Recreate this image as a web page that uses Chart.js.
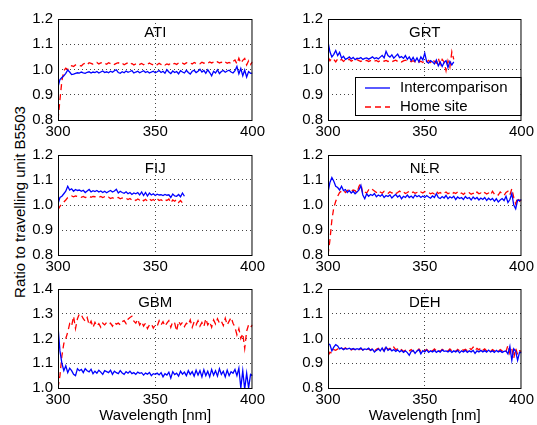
<!DOCTYPE html>
<html lang="en">
<head>
<meta charset="UTF-8" />
<title>ratio to travelling unit</title>
<script src="https://cdn.jsdelivr.net/npm/chart.js"></script>
<style>
  body { margin: 0; background: #fff; }
  .wrap { position: relative; width: 537px; height: 425px; overflow: hidden; font-family: 'Liberation Sans', Arial, sans-serif; }
  canvas { position: absolute; }
  .ylab {
    position: absolute; left: 19px; top: 202px;
    transform: translate(-50%, -50%) rotate(-90deg);
    white-space: nowrap; font-size: 15px; color: #000;
  }
</style>
</head>
<body>
<div class="wrap" id="wrap">
  <div class="ylab">Ratio to travelling unit B5503</div>
</div>
<script>
// wavelength grid (nm)
const wlFull = [300,301,302,303,304,305,306,307,308,309,310,311,312,313,314,315,316,317,318,319,
  320,321,322,323,324,325,326,327,328,329,330,331,332,333,334,335,336,337,338,339,
  340,341,342,343,344,345,346,347,348,349,350,351,352,353,354,355,356,357,358,359,
  360,361,362,363,364,365,366,367,368,369,370,371,372,373,374,375,376,377,378,379,
  380,381,382,383,384,385,386,387,388,389,390,391,392,393,394,395,396,397,398,399,400];
const wlShort = wlFull.slice(0, 66); // 300..365

const atiInter = [0.930,0.960,0.968,0.975,0.985,0.998,0.990,0.980,0.982,0.985,
  0.987,0.986,0.990,0.987,0.985,0.989,0.991,0.986,0.990,0.988,
  0.992,0.986,0.990,0.994,0.988,0.991,0.987,0.993,0.989,0.995,
  0.999,0.988,0.985,0.991,0.987,0.994,0.989,0.992,0.996,0.986,
  0.990,0.993,0.987,0.991,0.995,0.988,0.992,0.986,0.990,0.993,
  0.987,0.991,0.996,0.988,0.993,0.985,0.999,0.990,0.984,0.994,
  0.988,0.992,0.983,0.995,0.990,0.986,0.997,0.988,0.982,0.993,
  0.997,0.988,0.993,1.001,0.990,0.996,0.985,0.999,0.988,0.975,
  0.993,0.986,0.999,0.984,0.992,0.996,0.989,0.994,0.997,0.990,
  0.986,0.995,1.012,0.983,1.004,0.975,0.998,0.970,0.992,0.985,0.986];
const atiHome = [0.800,0.880,0.955,0.995,1.005,1.000,1.003,1.015,1.012,1.018,
  1.020,1.016,1.014,1.022,1.025,1.019,1.027,1.024,1.021,1.026,
  1.028,1.022,1.026,1.029,1.024,1.021,1.027,1.023,1.026,1.020,
  1.024,1.027,1.021,1.025,1.019,1.023,1.027,1.020,1.024,1.018,
  1.022,1.026,1.020,1.024,1.019,1.023,1.020,1.026,1.021,1.018,
  1.023,1.019,1.025,1.020,1.024,1.018,1.022,1.019,1.026,1.021,
  1.024,1.020,1.026,1.022,1.025,1.021,1.027,1.023,1.026,1.022,
  1.028,1.024,1.027,1.023,1.029,1.025,1.028,1.024,1.030,1.026,
  1.029,1.025,1.031,1.026,1.029,1.024,1.030,1.025,1.028,1.023,
  1.032,1.038,1.022,1.045,1.025,1.036,1.044,1.018,1.035,1.020,1.030];

const grtInter = [1.110,1.070,1.050,1.060,1.075,1.055,1.068,1.045,1.052,1.040,
  1.044,1.050,1.042,1.048,1.039,1.045,1.043,1.047,1.040,1.044,
  1.046,1.041,1.045,1.050,1.043,1.047,1.042,1.049,1.056,1.046,
  1.072,1.055,1.049,1.058,1.045,1.053,1.061,1.047,1.051,1.044,
  1.055,1.040,1.050,1.035,1.048,1.032,1.046,1.030,1.050,1.038,
  1.065,1.030,1.025,1.035,1.030,1.022,1.038,1.015,1.030,1.012,
  1.028,1.035,1.008,1.032,1.018,1.030];
const grtHome = [1.050,1.035,1.045,1.040,1.030,1.042,1.035,1.040,1.032,1.038,
  1.035,1.041,1.033,1.037,1.034,1.039,1.035,1.032,1.037,1.034,
  1.036,1.032,1.035,1.038,1.033,1.036,1.031,1.035,1.038,1.033,
  1.036,1.032,1.035,1.030,1.034,1.037,1.032,1.035,1.030,1.034,
  1.037,1.033,1.036,1.031,1.035,1.030,1.034,1.029,1.033,1.028,
  1.035,1.030,1.036,1.028,1.040,1.032,1.025,1.045,1.020,1.040,
  1.030,0.995,1.035,1.010,1.070,1.040];

const fijInter = [1.005,1.030,1.035,1.045,1.055,1.075,1.060,1.065,1.055,1.062,
  1.058,1.060,1.055,1.059,1.050,1.056,1.062,1.052,1.057,1.054,
  1.058,1.052,1.056,1.050,1.055,1.049,1.054,1.058,1.052,1.056,
  1.063,1.048,1.055,1.050,1.047,1.053,1.045,1.050,1.042,1.048,
  1.045,1.050,1.040,1.052,1.038,1.050,1.036,1.048,1.040,1.045,
  1.038,1.043,1.040,1.041,1.038,1.042,1.039,1.041,1.030,1.044,
  1.036,1.035,1.042,1.033,1.048,1.035];
const fijHome = [0.980,0.995,1.005,1.012,1.020,1.030,1.032,1.036,1.033,1.036,
  1.034,1.035,1.031,1.034,1.030,1.033,1.036,1.031,1.034,1.033,
  1.035,1.031,1.034,1.030,1.033,1.028,1.031,1.026,1.029,1.025,
  1.028,1.030,1.025,1.028,1.024,1.027,1.022,1.026,1.020,1.024,
  1.018,1.024,1.020,1.026,1.017,1.023,1.015,1.024,1.018,1.022,
  1.016,1.025,1.018,1.021,1.015,1.022,1.018,1.024,1.008,1.020,
  1.015,1.022,1.010,1.018,1.008,1.012];

const nlrInter = [1.050,1.090,1.110,1.095,1.075,1.070,1.060,1.075,1.058,1.062,
  1.050,1.058,1.048,1.055,1.045,1.052,1.060,1.078,1.040,1.025,
  1.045,1.035,1.042,1.038,1.046,1.033,1.040,1.035,1.042,1.030,
  1.038,1.034,1.040,1.028,1.036,1.042,1.032,1.038,1.025,1.035,
  1.030,1.040,1.030,1.036,1.028,1.040,1.033,1.038,1.030,1.036,
  1.030,1.038,1.032,1.027,1.036,1.030,1.045,1.030,1.026,1.034,
  1.028,1.038,1.025,1.033,1.028,1.035,1.022,1.032,1.026,1.030,
  1.022,1.034,1.026,1.030,1.020,1.032,1.024,1.030,1.020,1.028,
  1.022,1.030,1.018,1.027,1.020,1.026,1.015,1.025,1.012,1.020,
  1.026,1.018,1.035,1.010,1.022,1.045,1.000,0.985,1.020,1.018,1.022];
const nlrHome = [0.800,0.860,0.940,0.990,1.015,1.035,1.050,1.055,1.060,1.050,
  1.058,1.062,1.055,1.060,1.058,1.048,1.075,1.085,1.045,1.052,
  1.048,1.060,1.055,1.062,1.056,1.050,1.058,1.052,1.047,1.055,
  1.050,1.046,1.053,1.048,1.052,1.045,1.050,1.056,1.048,1.052,
  1.046,1.050,1.055,1.048,1.052,1.047,1.050,1.045,1.052,1.048,
  1.054,1.049,1.050,1.045,1.048,1.044,1.055,1.046,1.050,1.043,
  1.048,1.052,1.045,1.049,1.043,1.050,1.046,1.052,1.044,1.048,
  1.042,1.050,1.046,1.049,1.043,1.047,1.041,1.052,1.045,1.048,
  1.042,1.050,1.044,1.048,1.040,1.055,1.043,1.047,1.040,1.052,
  1.045,1.038,1.050,1.055,1.040,1.065,1.030,1.005,1.030,1.015,1.020];

const gbmInter = [1.250,1.150,1.100,1.070,1.090,1.062,1.080,1.070,1.055,1.050,
  1.078,1.070,1.075,1.062,1.078,1.070,1.065,1.076,1.058,1.068,
  1.060,1.072,1.064,1.055,1.070,1.066,1.062,1.072,1.055,1.068,
  1.062,1.058,1.070,1.061,1.055,1.066,1.060,1.068,1.058,1.062,
  1.055,1.064,1.059,1.062,1.052,1.060,1.056,1.063,1.050,1.058,
  1.055,1.060,1.053,1.062,1.045,1.058,1.052,1.064,1.040,1.066,
  1.054,1.060,1.048,1.068,1.056,1.064,1.050,1.070,1.055,1.066,
  1.048,1.072,1.052,1.070,1.045,1.074,1.050,1.068,1.045,1.075,
  1.052,1.070,1.048,1.078,1.055,1.068,1.045,1.072,1.050,1.066,
  1.060,1.075,1.050,1.080,1.000,1.070,0.995,1.060,1.000,1.055,1.050];
const gbmHome = [1.000,1.050,1.130,1.180,1.200,1.225,1.260,1.250,1.290,1.240,
  1.280,1.300,1.295,1.280,1.270,1.285,1.255,1.270,1.245,1.265,
  1.250,1.260,1.245,1.262,1.255,1.265,1.258,1.262,1.250,1.265,
  1.258,1.262,1.255,1.268,1.272,1.260,1.278,1.285,1.290,1.270,
  1.262,1.278,1.255,1.268,1.250,1.262,1.240,1.255,1.260,1.242,
  1.255,1.250,1.272,1.255,1.268,1.250,1.262,1.272,1.245,1.268,
  1.262,1.230,1.270,1.255,1.265,1.248,1.262,1.255,1.275,1.245,
  1.268,1.255,1.272,1.250,1.265,1.248,1.280,1.255,1.268,1.245,
  1.275,1.258,1.280,1.262,1.270,1.252,1.282,1.255,1.270,1.285,
  1.262,1.245,1.215,1.240,1.200,1.220,1.160,1.230,1.255,1.245,1.255];

const dehInter = [0.980,0.975,0.950,0.965,0.975,0.970,0.958,0.962,0.955,0.960,
  0.957,0.961,0.956,0.960,0.955,0.959,0.956,0.962,0.953,0.958,
  0.955,0.961,0.952,0.957,0.945,0.952,0.958,0.950,0.962,0.948,
  0.965,0.952,0.958,0.950,0.955,0.948,0.954,0.946,0.952,0.944,
  0.950,0.943,0.932,0.948,0.952,0.940,0.950,0.955,0.938,0.951,
  0.946,0.954,0.944,0.950,0.946,0.952,0.944,0.950,0.945,0.954,
  0.948,0.950,0.946,0.952,0.944,0.950,0.946,0.952,0.942,0.950,
  0.946,0.952,0.944,0.950,0.946,0.952,0.940,0.950,0.946,0.952,
  0.946,0.951,0.945,0.953,0.946,0.950,0.944,0.952,0.946,0.950,
  0.944,0.948,0.950,0.938,0.968,0.912,0.958,0.948,0.912,0.945,0.942];
const dehHome = [0.930,0.945,0.940,0.955,0.952,0.958,0.955,0.960,0.957,0.962,
  0.956,0.960,0.954,0.958,0.955,0.961,0.955,0.959,0.954,0.960,
  0.955,0.958,0.952,0.960,0.950,0.956,0.960,0.952,0.958,0.950,
  0.970,0.955,0.960,0.952,0.965,0.955,0.958,0.950,0.955,0.948,
  0.952,0.946,0.950,0.955,0.948,0.955,0.950,0.958,0.948,0.955,
  0.950,0.956,0.948,0.955,0.950,0.958,0.950,0.955,0.948,0.956,
  0.952,0.955,0.950,0.958,0.950,0.954,0.948,0.956,0.950,0.958,
  0.952,0.956,0.950,0.962,0.955,0.965,0.952,0.960,0.954,0.962,
  0.952,0.958,0.950,0.956,0.948,0.955,0.950,0.956,0.948,0.955,
  0.950,0.956,0.948,0.972,0.940,0.958,0.920,0.960,0.935,0.950,0.948];

const seriesLabels = ['Intercomparison', 'Home site'];
const xTicks = [300, 350, 400];

const FONT = "'Liberation Sans', Arial, sans-serif";
Chart.defaults.font.family = FONT;
Chart.defaults.font.size = 15;
Chart.defaults.color = '#000';

// box round the plot, panel name, optional legend
const framePlugin = {
  id: 'frame',
  afterDraw(chart, args, opts) {
    const { ctx, chartArea: a } = chart;
    ctx.save();
    ctx.strokeStyle = '#000';
    ctx.lineWidth = 1;
    ctx.strokeRect(a.left + 0.5, a.top + 0.5, a.right - a.left - 1, a.bottom - a.top);
    ctx.fillStyle = '#000';
    ctx.font = '15px ' + FONT;
    ctx.textAlign = 'center';
    ctx.textBaseline = 'middle';
    ctx.fillText(opts.name, (a.left + a.right) / 2, a.top + 14);

    if (opts.legend) {
      const x0 = a.left + 27, y0 = a.top + 58, w = a.right - 1 - x0, h = 38;
      ctx.fillStyle = '#fff';
      ctx.fillRect(x0, y0, w, h);
      ctx.strokeRect(x0 + 0.5, y0 + 0.5, w, h);
      const ds = chart.data.datasets;
      [y0 + 11, y0 + 30].forEach((yy, i) => {
        ctx.strokeStyle = ds[i].borderColor;
        ctx.lineWidth = 1.3;
        ctx.setLineDash(ds[i].borderDash || []);
        ctx.beginPath();
        ctx.moveTo(x0 + 10, yy);
        ctx.lineTo(x0 + 35, yy);
        ctx.stroke();
        ctx.setLineDash([]);
        ctx.fillStyle = '#000';
        ctx.textAlign = 'left';
        ctx.fillText(ds[i].label, x0 + 45, yy);
      });
    }
    ctx.restore();
  }
};

const panels = [
  { name: 'ATI', wl: wlFull,  inter: atiInter, home: atiHome, yMin: 0.8, yMax: 1.2, left: 18,  top: 5,   w: 250, h: 135, padR: 13, xh: 20 },
  { name: 'GRT', wl: wlShort, inter: grtInter, home: grtHome, yMin: 0.8, yMax: 1.2, left: 288, top: 5,   w: 249, h: 135, padR: 11, xh: 20, legend: true },
  { name: 'FIJ', wl: wlShort, inter: fijInter, home: fijHome, yMin: 0.8, yMax: 1.2, left: 18,  top: 141, w: 250, h: 134, padR: 13, xh: 20 },
  { name: 'NLR', wl: wlFull,  inter: nlrInter, home: nlrHome, yMin: 0.8, yMax: 1.2, left: 288, top: 141, w: 249, h: 134, padR: 11, xh: 20 },
  { name: 'GBM', wl: wlFull,  inter: gbmInter, home: gbmHome, yMin: 1.0, yMax: 1.4, left: 18,  top: 275, w: 250, h: 150, padR: 13, xh: 37, xTitle: true },
  { name: 'DEH', wl: wlFull,  inter: dehInter, home: dehHome, yMin: 0.8, yMax: 1.2, left: 288, top: 275, w: 249, h: 150, padR: 11, xh: 37, xTitle: true }
];

const inner = (lo, hi) => c => {
  const v = c.tick ? c.tick.value : lo;
  return (Math.abs(v - lo) > 1e-6 && Math.abs(v - hi) > 1e-6) ? '#444' : 'rgba(0,0,0,0)';
};

const wrap = document.getElementById('wrap');
panels.forEach(p => {
  const cv = document.createElement('canvas');
  cv.width = p.w; cv.height = p.h;
  cv.style.left = p.left + 'px'; cv.style.top = p.top + 'px';
  cv.style.width = p.w + 'px'; cv.style.height = p.h + 'px';
  wrap.appendChild(cv);

  new Chart(cv, {
    type: 'line',
    data: {
      datasets: [
        { label: seriesLabels[0], data: p.wl.map((w, i) => ({ x: w, y: p.inter[i] })),
          borderColor: '#0000ff', borderWidth: 1.3, pointRadius: 0, tension: 0 },
        { label: seriesLabels[1], data: p.wl.map((w, i) => ({ x: w, y: p.home[i] })),
          borderColor: '#ff0000', borderWidth: 1.3, borderDash: [6, 4], pointRadius: 0, tension: 0 }
      ]
    },
    options: {
      responsive: false,
      animation: false,
      devicePixelRatio: 1,
      layout: { padding: { top: 12, right: p.padR, left: 0, bottom: 0 } },
      plugins: {
        legend: { display: false },
        tooltip: { enabled: false },
        frame: { name: p.name, legend: !!p.legend }
      },
      scales: {
        x: {
          type: 'linear', min: 300, max: 400,
          afterBuildTicks: s => { s.ticks = xTicks.map(v => ({ value: v })); },
          ticks: { padding: 3, maxRotation: 0, autoSkip: false },
          grid: { drawTicks: false, color: inner(300, 400), lineWidth: 1 },
          border: { display: false, dash: [1, 3] },
          title: { display: !!p.xTitle, text: 'Wavelength [nm]', padding: 0 },
          afterFit: s => { s.height = p.xh; }
        },
        y: {
          min: p.yMin, max: p.yMax,
          ticks: { stepSize: 0.1, padding: 5, callback: v => v.toFixed(1) },
          grid: { drawTicks: false, color: inner(p.yMin, p.yMax), lineWidth: 1 },
          border: { display: false, dash: [1, 3] },
          afterFit: s => { s.width = 40; }
        }
      }
    },
    plugins: [framePlugin]
  });
});
</script>
</body>
</html>
